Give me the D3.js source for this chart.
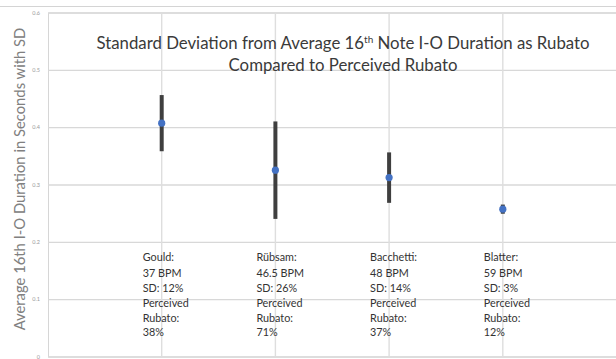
<!DOCTYPE html>
<html>
<head>
<meta charset="utf-8">
<script src="https://cdn.jsdelivr.net/npm/d3@7"></script>
<style>
  html, body { margin: 0; padding: 0; background: #fff; }
  svg { display: block; }
</style>
</head>
<body>
<svg id="chart" width="616" height="359"></svg>
<script>
// Pianists compared, with mean 16th-note inter-onset duration (s) and its SD (s)
const performers = ["Gould", "Rübsam", "Bacchetti", "Blatter"];
const meanDuration = [0.407, 0.325, 0.312, 0.257];
const sdDuration = [0.049, 0.085, 0.044, 0.008];
const notes = [
  ["Gould:", "37 BPM", "SD: 12%", "Perceived", "Rubato:", "38%"],
  ["Rübsam:", "46.5 BPM", "SD: 26%", "Perceived", "Rubato:", "71%"],
  ["Bacchetti:", "48 BPM", "SD: 14%", "Perceived", "Rubato:", "37%"],
  ["Blatter:", "59 BPM", "SD: 3%", "Perceived", "Rubato:", "12%"]
];
const yTicks = [0, 0.1, 0.2, 0.3, 0.4, 0.5, 0.6];
const xGrid = [1, 2, 3, 4];

const svg = d3.select("#chart");
const font = "Lato, 'Open Sans', sans-serif";

const x = d3.scaleLinear().domain([0, 5]).range([48, 616.5]);
const y = d3.scaleLinear().domain([0, 0.6]).range([356.5, 12.5]);

// frame line along the top
svg.append("line")
  .attr("x1", 0).attr("x2", 616).attr("y1", 6.5).attr("y2", 6.5)
  .attr("stroke", "#d4d4d4").attr("stroke-width", 1.2);

// horizontal gridlines + tick labels
const yAxis = d3.axisLeft(y).tickValues(yTicks)
  .tickSize(-(x.range()[1] - x.range()[0]))
  .tickPadding(8)
  .tickFormat(d => d === 0 ? "0" : d3.format(".1f")(d));
const gy = svg.append("g").attr("transform", `translate(${x(0)},0)`).call(yAxis);
gy.select(".domain").attr("stroke", "#d6d6d6");
gy.selectAll(".tick line").attr("stroke", "#d8d8d8").attr("stroke-width", 1.4);
gy.selectAll(".tick text")
  .attr("font-family", font).attr("font-size", 5.5).attr("fill", "#9a9a9a");

// vertical gridlines at each performer
svg.append("g").selectAll("line").data(xGrid).join("line")
  .attr("x1", d => x(d)).attr("x2", d => x(d))
  .attr("y1", y(0.6)).attr("y2", y(0))
  .attr("stroke", "#dedede").attr("stroke-width", 1.4);

// y-axis title
svg.append("text")
  .attr("transform", "translate(25,179) rotate(-90)")
  .attr("text-anchor", "middle")
  .attr("font-family", font).attr("font-size", 14.8).attr("fill", "#808080")
  .text("Average 16th I-O Duration in Seconds with SD");

// chart title
const title = svg.append("text")
  .attr("text-anchor", "middle")
  .attr("font-family", font).attr("font-size", 16.8).attr("fill", "#3a3a3a");
const t1 = title.append("tspan").attr("x", 343).attr("y", 49);
t1.append("tspan").text("Standard Deviation from Average 16");
t1.append("tspan").attr("dy", -6).attr("font-size", 10).text("th");
t1.append("tspan").attr("dy", 6).text(" Note I-O Duration as Rubato");
title.append("tspan").attr("x", 343).attr("y", 71).text("Compared to Perceived Rubato");

// error bars (mean ± SD)
const idx = d3.range(performers.length);
svg.append("g").selectAll("line").data(idx).join("line")
  .attr("x1", i => x(i + 1)).attr("x2", i => x(i + 1))
  .attr("y1", i => y(meanDuration[i] + sdDuration[i]))
  .attr("y2", i => y(meanDuration[i] - sdDuration[i]))
  .attr("stroke", "#3f3f3f").attr("stroke-width", 4);

// mean markers
svg.append("g").selectAll("circle").data(idx).join("circle")
  .attr("cx", i => x(i + 1)).attr("cy", i => y(meanDuration[i]))
  .attr("r", 3.6).attr("fill", "#4472c4");

// per-performer notes
const lineY = [261, 276.5, 291.5, 307, 321.5, 336];
const notesG = svg.append("g").selectAll("text").data(idx).join("text")
  .attr("font-family", font).attr("font-size", 10.8).attr("fill", "#333");
notesG.each(function(i) {
  const t = d3.select(this);
  notes[i].forEach((s, k) => {
    t.append("tspan").attr("x", x(i + 1) - 19).attr("y", lineY[k]).text(s);
  });
});
</script>
</body>
</html>
